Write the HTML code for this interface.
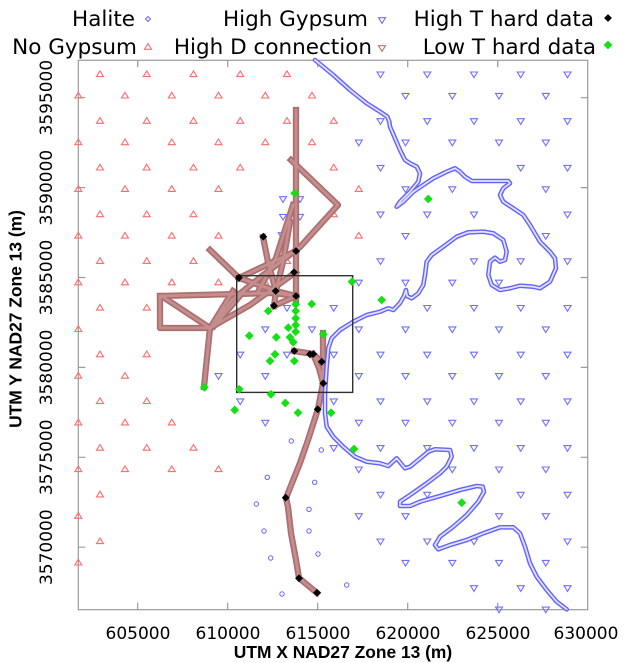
<!DOCTYPE html>
<html><head><meta charset="utf-8"><style>
html,body{margin:0;padding:0;background:#fff;}
svg{display:block;}
</style></head><body>
<svg width="624" height="663" viewBox="0 0 624 663" xmlns="http://www.w3.org/2000/svg">
<defs>
<path id="r" d="M-3.5,2.3h7L0,-3.4z" fill="none" stroke="#ff6c6c" stroke-width="1.1"/>
<path id="b" d="M-3.5,-2.3h7L0,3.4z" fill="none" stroke="#7070ff" stroke-width="1.1"/>
<circle id="h" r="2.2" fill="none" stroke="#6464ff" stroke-width="1"/>
<path id="k" d="M0,-3.9L3.9,0L0,3.9L-3.9,0z" fill="#000"/>
<path id="g" d="M0,-4.4L4.4,0L0,4.4L-4.4,0z" fill="#14e014"/>
<g id="bb">
<path d="M296,110V300"/>
<path d="M291,160L338,205L300,247L262,276L232,300L210,329"/>
<path d="M210,250L239,278"/>
<path d="M263,237L268,262L276,291"/>
<path d="M296,251L239,278"/>
<path d="M293,205L276,258L258,292"/>
<path d="M290,222L283,262L276,291"/>
<path d="M296,272L250,305L210,328"/>
<path d="M160,296L273,293L296,296"/>
<path d="M160,296V328H210"/>
<path d="M163,297L210,328"/>
<path d="M210,328L233,291M214,326L245,290"/>
<path d="M210,328L204,387"/>
<path d="M274,306L296,296M274,306L276,291"/>
<path d="M239,278L276,291L296,296"/>
<path d="M294,351L313,354L322,362"/>
<path d="M323,333V383"/>
<path d="M313,354L319,368L323,383L318,409L308,440L300,463L286,498L288,507L291,533L296,560L299,578L317,593"/>
</g>
<polyline id="hc" points="315,60 333.3,75 350,90 366.7,103.3 380,111.7 387.3,116.7 389.3,121.7 390,126.7 395,138.3 400,150 405,160 410,163.3 416.7,166.7 420,173.3 418.3,181.7 410,191.7 400,201.7 396.7,206.7 403.3,201.7 413.3,191.7 423.3,185 433.3,178.3 446.7,171.7 455,168.3 460,171.7 465,176.7 471.7,181 508.3,181 510,183.3 503.3,188.3 500,195 503.3,201.7 513.3,208.3 523.3,215 530,225 540,241.7 550,251.7 555,258.3 556,268.3 550,281.7 540,288.3 533.3,286.7 520,285.7 510,288.3 500,290 491.7,285 488.3,275 490,261.7 495,257.7 500,261.7 505,260 506.7,251.7 503.3,240 493.3,233.3 483.3,231.7 468.3,232.3 456.7,236.7 443.3,246.7 431.7,255 426.7,261.7 425,275 423.3,285 418.3,293.3 411.7,298.3 407,296 406,290 404,296 400,303 393.3,310 388.3,308.3 380,311.7 366.7,315 353.3,321.7 340,330 331.7,338.3 328.3,348.3 326.7,366.7 325,393.3 325,413.3 326.7,426.7 333.3,436.7 343.3,446.7 355,456.7 366.7,461.7 380,463.3 388.3,466 396.7,458.3 405,468.3 410,466.7 418.3,460 428.3,451.7 435,449.3 450,450 451.7,456.7 446.7,466.7 440,473.3 426.7,483.3 410,495 400,501.7 400,506 410,506 420,501.7 440,496 460,490 476.7,486 482.7,486.7 484,491.7 478.3,501.7 466.7,515 453.3,526.7 440,536.7 435,545 438.3,549.3 450,545 466.7,540 483.3,533.3 500,527.3 513.3,527.3 520,533.3 525,546.7 530,563.3 536.7,576.7 546.7,590 556.7,601.7 566.7,609.3"/>
</defs>

<!-- Legend -->
<g font-family="DejaVu Sans, sans-serif" font-size="21.5" fill="#000" text-anchor="end">
<text x="135" y="26">Halite</text>
<text x="368" y="26">High Gypsum</text>
<text x="594" y="26">High T hard data</text>
<text x="137" y="54">No Gypsum</text>
<text x="372" y="54">High D connection</text>
<text x="596" y="54">Low T hard data</text>
</g>
<path d="M148,16.5L150.5,19L148,21.5L145.5,19z" fill="none" stroke="#6464ff" stroke-width="1"/>
<use href="#b" x="382" y="20"/>
<use href="#k" x="608" y="18"/>
<use href="#r" x="148" y="47"/>
<path d="M378.5,45.7h7L382,51.4z" fill="none" stroke="#c07070" stroke-width="1.1"/>
<use href="#g" x="608" y="45"/>

<!-- Frame -->
<rect x="78.3" y="60.3" width="509.4" height="549.4" fill="none" stroke="#9a9a9a" stroke-width="1.2"/>
<g stroke="#9a9a9a" stroke-width="1.2">
<path d="M137.7,609.7v-7M227.7,609.7v-7M317.7,609.7v-7M407.7,609.7v-7M497.7,609.7v-7"/>
<path d="M137.7,60.3v7M227.7,60.3v7M317.7,60.3v7M407.7,60.3v7M497.7,60.3v7"/>
<path d="M78.3,97.7h7M78.3,187.6h7M78.3,277.5h7M78.3,367.4h7M78.3,457.3h7M78.3,547.2h7"/>
<path d="M587.7,97.7h-7M587.7,187.6h-7M587.7,277.5h-7M587.7,367.4h-7M587.7,457.3h-7M587.7,547.2h-7"/>
</g>

<!-- Tick labels -->
<g font-family="DejaVu Sans, sans-serif" font-size="17" fill="#000" text-anchor="middle">
<text x="138" y="639">605000</text>
<text x="228" y="639">610000</text>
<text x="318" y="639">615000</text>
<text x="408" y="639">620000</text>
<text x="498" y="639">625000</text>
<text x="586" y="639">630000</text>
<text transform="translate(52,97.7) rotate(-90)">3595000</text>
<text transform="translate(52,187.6) rotate(-90)">3590000</text>
<text transform="translate(52,277.5) rotate(-90)">3585000</text>
<text transform="translate(52,367.4) rotate(-90)">3580000</text>
<text transform="translate(52,457.3) rotate(-90)">3575000</text>
<text transform="translate(52,547.2) rotate(-90)">3570000</text>
</g>
<g font-family="Liberation Sans, Arial, sans-serif" font-weight="bold" font-size="17.4" fill="#000" text-anchor="middle">
<text x="343" y="658">UTM X NAD27 Zone 13 (m)</text>
<text transform="translate(21.5,319) rotate(-90)">UTM Y NAD27 Zone 13 (m)</text>
</g>

<!-- Grid row A -->
<g>
<use href="#r" x="100" y="74.3"/><use href="#r" x="146.75" y="74.3"/><use href="#r" x="193.5" y="74.3"/><use href="#r" x="240.25" y="74.3"/><use href="#r" x="287" y="74.3"/>
<use href="#b" x="380.5" y="74.3"/><use href="#b" x="427.25" y="74.3"/><use href="#b" x="474" y="74.3"/><use href="#b" x="520.75" y="74.3"/><use href="#b" x="567.5" y="74.3"/>

<use href="#r" x="100" y="121"/><use href="#r" x="146.75" y="121"/><use href="#r" x="193.5" y="121"/><use href="#r" x="240.25" y="121"/><use href="#r" x="287" y="121"/><use href="#r" x="333.75" y="121"/>
<use href="#b" x="380.5" y="121"/><use href="#b" x="427.25" y="121"/><use href="#b" x="474" y="121"/><use href="#b" x="520.75" y="121"/><use href="#b" x="567.5" y="121"/>

<use href="#r" x="100" y="167.7"/><use href="#r" x="146.75" y="167.7"/><use href="#r" x="193.5" y="167.7"/><use href="#r" x="240.25" y="167.7"/><use href="#r" x="333.75" y="167.7"/>
<use href="#b" x="380.5" y="167.7"/><use href="#b" x="520.75" y="167.7"/><use href="#b" x="567.5" y="167.7"/>

<use href="#r" x="100" y="214.4"/><use href="#r" x="146.75" y="214.4"/><use href="#r" x="193.5" y="214.4"/><use href="#r" x="333.75" y="214.4"/>
<use href="#b" x="380.5" y="214.4"/><use href="#b" x="427.25" y="214.4"/><use href="#b" x="474" y="214.4"/><use href="#b" x="567.5" y="214.4"/>

<use href="#r" x="100" y="261.1"/><use href="#r" x="146.75" y="261.1"/><use href="#r" x="193.5" y="261.1"/><use href="#r" x="287" y="261.1"/>
<use href="#b" x="380.5" y="261.1"/><use href="#b" x="474" y="261.1"/><use href="#b" x="520.75" y="261.1"/><use href="#b" x="567.5" y="261.1"/>

<use href="#r" x="100" y="307.8"/><use href="#r" x="146.75" y="307.8"/>
<use href="#b" x="287" y="307.8"/><use href="#b" x="333.75" y="307.8"/><use href="#b" x="427.25" y="307.8"/><use href="#b" x="474" y="307.8"/><use href="#b" x="520.75" y="307.8"/><use href="#b" x="567.5" y="307.8"/>

<use href="#r" x="100" y="354.5"/><use href="#r" x="146.75" y="354.5"/>
<use href="#b" x="240.25" y="354.5"/><use href="#b" x="287" y="354.5"/><use href="#b" x="333.75" y="354.5"/><use href="#b" x="380.5" y="354.5"/><use href="#b" x="427.25" y="354.5"/><use href="#b" x="474" y="354.5"/><use href="#b" x="520.75" y="354.5"/><use href="#b" x="567.5" y="354.5"/>

<use href="#r" x="100" y="401.2"/><use href="#r" x="146.75" y="401.2"/>
<use href="#b" x="240.25" y="401.2"/><use href="#b" x="333.75" y="401.2"/><use href="#b" x="380.5" y="401.2"/><use href="#b" x="427.25" y="401.2"/><use href="#b" x="474" y="401.2"/><use href="#b" x="520.75" y="401.2"/><use href="#b" x="567.5" y="401.2"/>

<use href="#r" x="100" y="447.9"/><use href="#r" x="146.75" y="447.9"/><use href="#r" x="193.5" y="447.9"/>
<use href="#b" x="333.75" y="447.9"/><use href="#b" x="380.5" y="447.9"/><use href="#b" x="427.25" y="447.9"/><use href="#b" x="474" y="447.9"/><use href="#b" x="520.75" y="447.9"/><use href="#b" x="567.5" y="447.9"/>

<use href="#r" x="100" y="494.6"/>
<use href="#b" x="380.5" y="494.6"/><use href="#b" x="427.25" y="494.6"/><use href="#b" x="520.75" y="494.6"/><use href="#b" x="567.5" y="494.6"/>

<use href="#r" x="100" y="541.3"/>
<use href="#b" x="380.5" y="541.3"/><use href="#b" x="427.25" y="541.3"/><use href="#b" x="474" y="541.3"/><use href="#b" x="567.5" y="541.3"/>

<use href="#b" x="474" y="588"/><use href="#b" x="520.75" y="588"/><use href="#b" x="567.5" y="588"/>
</g>

<!-- Grid row B -->
<g>
<use href="#r" x="78.3" y="95.7"/><use href="#r" x="125" y="95.7"/><use href="#r" x="171.8" y="95.7"/><use href="#r" x="218.5" y="95.7"/><use href="#r" x="265.3" y="95.7"/><use href="#r" x="312" y="95.7"/>
<use href="#b" x="405.5" y="95.7"/><use href="#b" x="452.3" y="95.7"/><use href="#b" x="499" y="95.7"/><use href="#b" x="545.8" y="95.7"/>

<use href="#r" x="78.3" y="142.4"/><use href="#r" x="125" y="142.4"/><use href="#r" x="171.8" y="142.4"/><use href="#r" x="218.5" y="142.4"/><use href="#r" x="265.3" y="142.4"/><use href="#r" x="312" y="142.4"/>
<use href="#b" x="358.8" y="142.4"/><use href="#b" x="405.5" y="142.4"/><use href="#b" x="452.3" y="142.4"/><use href="#b" x="499" y="142.4"/><use href="#b" x="545.8" y="142.4"/>

<use href="#r" x="78.3" y="189.1"/><use href="#r" x="125" y="189.1"/><use href="#r" x="171.8" y="189.1"/><use href="#r" x="218.5" y="189.1"/><use href="#r" x="358.8" y="189.1"/>
<use href="#b" x="405.5" y="189.1"/><use href="#b" x="452.3" y="189.1"/><use href="#b" x="545.8" y="189.1"/>

<use href="#r" x="78.3" y="235.8"/><use href="#r" x="125" y="235.8"/><use href="#r" x="171.8" y="235.8"/><use href="#r" x="218.5" y="235.8"/><use href="#r" x="358.8" y="235.8"/>
<use href="#b" x="405.5" y="235.8"/><use href="#b" x="545.8" y="235.8"/>

<use href="#r" x="78.3" y="282.5"/><use href="#r" x="125" y="282.5"/><use href="#r" x="171.8" y="282.5"/><use href="#r" x="218.5" y="282.5"/><use href="#r" x="265.3" y="282.5"/>
<use href="#b" x="358.8" y="282.5"/><use href="#b" x="405.5" y="282.5"/><use href="#b" x="452.3" y="282.5"/><use href="#b" x="499" y="282.5"/>

<use href="#r" x="78.3" y="329.2"/>
<use href="#b" x="265.3" y="329.2"/><use href="#b" x="312" y="329.2"/><use href="#b" x="358.8" y="329.2"/><use href="#b" x="405.5" y="329.2"/><use href="#b" x="452.3" y="329.2"/><use href="#b" x="499" y="329.2"/><use href="#b" x="545.8" y="329.2"/>

<use href="#r" x="78.3" y="375.9"/><use href="#r" x="125" y="375.9"/>
<use href="#b" x="218.5" y="375.9"/><use href="#b" x="265.3" y="375.9"/><use href="#b" x="358.8" y="375.9"/><use href="#b" x="405.5" y="375.9"/><use href="#b" x="452.3" y="375.9"/><use href="#b" x="499" y="375.9"/><use href="#b" x="545.8" y="375.9"/>

<use href="#r" x="78.3" y="422.6"/><use href="#r" x="125" y="422.6"/><use href="#r" x="171.8" y="422.6"/>
<use href="#b" x="265.3" y="422.6"/><use href="#b" x="358.8" y="422.6"/><use href="#b" x="405.5" y="422.6"/><use href="#b" x="452.3" y="422.6"/><use href="#b" x="499" y="422.6"/><use href="#b" x="545.8" y="422.6"/>

<use href="#r" x="78.3" y="469.3"/><use href="#r" x="125" y="469.3"/><use href="#r" x="171.8" y="469.3"/><use href="#r" x="218.5" y="469.3"/>
<use href="#b" x="358.8" y="469.3"/><use href="#b" x="452.3" y="469.3"/><use href="#b" x="499" y="469.3"/><use href="#b" x="545.8" y="469.3"/>

<use href="#r" x="78.3" y="516"/>
<use href="#b" x="358.8" y="516"/><use href="#b" x="405.5" y="516"/><use href="#b" x="499" y="516"/><use href="#b" x="545.8" y="516"/>

<use href="#r" x="78.3" y="562.7"/>
<use href="#b" x="405.5" y="562.7"/><use href="#b" x="452.3" y="562.7"/><use href="#b" x="499" y="562.7"/><use href="#b" x="545.8" y="562.7"/>

<use href="#b" x="499" y="609.4"/><use href="#b" x="545.8" y="609.4"/>
</g>

<!-- extra High Gypsum near wells -->
<use href="#b" x="283" y="199"/><use href="#b" x="300" y="199"/><use href="#b" x="283" y="216.7"/><use href="#b" x="300" y="216.7"/><use href="#b" x="281.7" y="235"/>

<!-- scattered halite -->
<g>
<use href="#h" x="291.3" y="441"/><use href="#h" x="321.3" y="450"/><use href="#h" x="267.3" y="477.3"/><use href="#h" x="314.7" y="482.3"/>
<use href="#h" x="256.3" y="504"/><use href="#h" x="309" y="509.3"/><use href="#h" x="264" y="531"/><use href="#h" x="309" y="531"/>
<use href="#h" x="270.7" y="558"/><use href="#h" x="318" y="554"/><use href="#h" x="282" y="594"/><use href="#h" x="346.7" y="585"/>
</g>

<!-- High D connection (brown bands) -->
<g fill="none" stroke-linejoin="round" stroke-linecap="square">
<use href="#bb" stroke="#ad6e6e" stroke-width="6.3"/>
<use href="#bb" stroke="#c48e8e" stroke-width="2.8" stroke-dasharray="1.5 1.8"/>
</g>

<!-- Halite contact curve -->
<g fill="none" stroke-linejoin="round" stroke-linecap="round">
<use href="#hc" stroke="#6262ff" stroke-width="4.6"/>
<use href="#hc" stroke="#e2e2ff" stroke-width="1.8"/>
</g>

<!-- Rectangle -->
<rect x="236.7" y="275.7" width="116" height="116.7" fill="none" stroke="#303030" stroke-width="1.4"/>

<!-- High T hard data -->
<g>
<use href="#k" x="263.3" y="236.7"/><use href="#k" x="296" y="251"/><use href="#k" x="294" y="272.3"/><use href="#k" x="239" y="277.7"/>
<use href="#k" x="275.7" y="291"/><use href="#k" x="296" y="296"/><use href="#k" x="274" y="305.7"/><use href="#k" x="294.3" y="351"/>
<use href="#k" x="310" y="354.3"/><use href="#k" x="313.3" y="354"/><use href="#k" x="321.7" y="361.7"/><use href="#k" x="323.3" y="383.3"/>
<use href="#k" x="317.7" y="409.3"/><use href="#k" x="285.7" y="497.7"/><use href="#k" x="299" y="578.3"/><use href="#k" x="317" y="592.7"/>
</g>

<!-- Low T hard data -->
<g>
<use href="#g" x="294.7" y="193.3"/><use href="#g" x="428.3" y="199"/><use href="#g" x="352" y="281.7"/><use href="#g" x="381.7" y="300"/>
<use href="#g" x="311.7" y="304"/><use href="#g" x="295.7" y="304.3"/><use href="#g" x="268.3" y="311"/><use href="#g" x="295.7" y="311"/>
<use href="#g" x="295.7" y="318.3"/><use href="#g" x="295.7" y="325"/><use href="#g" x="288.3" y="327.7"/><use href="#g" x="295.7" y="331.7"/>
<use href="#g" x="323.3" y="334.3"/><use href="#g" x="249.3" y="335.7"/><use href="#g" x="276.3" y="337.3"/><use href="#g" x="290" y="337.3"/>
<use href="#g" x="293.3" y="342.3"/><use href="#g" x="275" y="354.3"/><use href="#g" x="270" y="361"/><use href="#g" x="294.3" y="361"/>
<use href="#g" x="204.3" y="387.3"/><use href="#g" x="239.3" y="389.3"/><use href="#g" x="271" y="394.3"/><use href="#g" x="285.3" y="403"/>
<use href="#g" x="234.7" y="410"/><use href="#g" x="298" y="412.7"/><use href="#g" x="331" y="412.7"/><use href="#g" x="354" y="449"/>
<use href="#g" x="461.7" y="502.7"/>
</g>
</svg>
</body></html>
